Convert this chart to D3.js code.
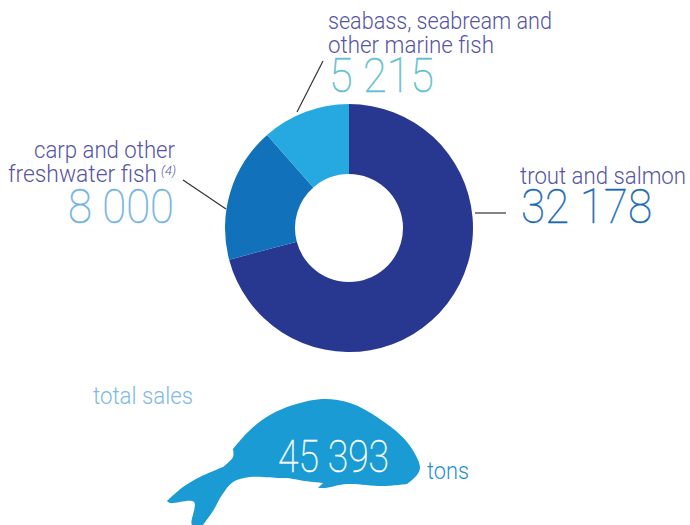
<!DOCTYPE html>
<html>
<head>
<meta charset="utf-8">
<script src="https://cdnjs.cloudflare.com/ajax/libs/d3/7.8.5/d3.min.js"></script>
<style>
    html, body { margin: 0; padding: 0; background: #fff; }
    svg { display: block; }
    text { font-family: Roboto, Lato, sans-serif; font-weight: 300; }
    text.number { font-weight: 100; stroke-width: 0.45; }
</style>
</head>
<body>
<script>
"use strict";

var categories = ["trout and salmon", "carp and other freshwater fish", "seabass, seabream and other marine fish"],
    sales = [32178, 8000, 5215],
    valueLabels = ["32 178", "8 000", "5 215"],
    totalLabel = "45 393",

    sliceColours = ["#283891", "#1172bb", "#25a9e0"],
    labelColour = "#5654a4",

    width = 690,
    height = 525,
    centreX = 349,
    centreY = 228,
    outerRadius = 124,
    innerRadius = 54;

var svg = d3.select("body").append("svg")
    .attr("width", width)
    .attr("height", height);

var pie = d3.pie().sort(null),
    arc = d3.arc().innerRadius(innerRadius).outerRadius(outerRadius);

svg.append("g")
    .attr("transform", "translate(" + centreX + "," + centreY + ")")
    .selectAll("path")
    .data(pie(sales))
    .enter().append("path")
    .attr("d", arc)
    .attr("fill", function(d, i) {
        return sliceColours[i];
    });

// leader lines
var leaders = [[475, 213, 506, 213], [183, 180, 226, 209], [323, 61, 297, 112]];

svg.selectAll("line.leader")
    .data(leaders)
    .enter().append("line")
    .attr("class", "leader")
    .attr("x1", function(d) { return d[0]; })
    .attr("y1", function(d) { return d[1]; })
    .attr("x2", function(d) { return d[2]; })
    .attr("y2", function(d) { return d[3]; })
    .attr("stroke", "#333")
    .attr("stroke-width", 1.2);

// the fish: smooth runs, joined with sharp corners at the fins
var fishParts = [
    [[233, 449], [250, 430], [270, 415], [293, 405], [323, 399], [350, 403], [377, 417], [407, 442], [420, 467], [417, 475], [407, 484]],
    [[407, 484], [383, 486], [347, 484], [325, 488], [318, 488]],
    [[318, 488], [323, 483]],
    [[323, 483], [305, 481], [287, 478], [280, 478], [250, 477], [233, 482], [222, 495], [213, 511], [203, 525]],
    [[203, 525], [192, 525], [194, 502], [170, 503], [167, 501]],
    [[167, 501], [183, 487], [200, 477], [223, 467]],
    [[223, 467], [233, 457], [233, 449]]
];

var smooth = d3.line().curve(d3.curveCatmullRom.alpha(0.5));

svg.append("path")
    .attr("d", fishParts.map(function(part, i) {
        var d = smooth(part);
        return i === 0 ? d : "L" + d.slice(1);
    }).join("") + "Z")
    .attr("fill", "#1a9bd4");

// fits a string to the width it has in the reference
function label(x, y, string, size, colour, fitWidth, anchor) {
    return svg.append("text")
        .attr("x", x)
        .attr("y", y)
        .attr("font-size", size)
        .attr("fill", colour)
        .attr("text-anchor", anchor || "start")
        .attr("textLength", fitWidth)
        .attr("lengthAdjust", "spacingAndGlyphs")
        .text(string);
}

function number(x, y, string, size, colour, fitWidth, anchor) {
    return label(x, y, string, size, colour, fitWidth, anchor)
        .classed("number", true)
        .attr("stroke", colour);
}

label(520, 184, categories[0], 24, labelColour, 166);
number(521, 223, valueLabels[0], 48, "#1a6ab5", 131);

label(175, 158, "carp and other", 24, labelColour, 141, "end");
label(157, 182, "freshwater fish", 24, labelColour, 149, "end");
label(161, 175, "(4)", 13, labelColour, 15).style("font-style", "italic");
number(174, 223, valueLabels[1], 48, "#6db3e5", 106, "end");

label(328, 29, "seabass, seabream and", 24, labelColour, 224);
label(328, 53, "other marine fish", 24, labelColour, 166);
number(329, 92, valueLabels[2], 48, "#5fc0cf", 105);

label(93, 404, "total sales", 24, "#7db9e4", 100);
number(278, 472, totalLabel, 44, "#fff", 111);
label(427, 479, "tons", 24, "#1f8fd0", 42);
</script>
</body>
</html>
